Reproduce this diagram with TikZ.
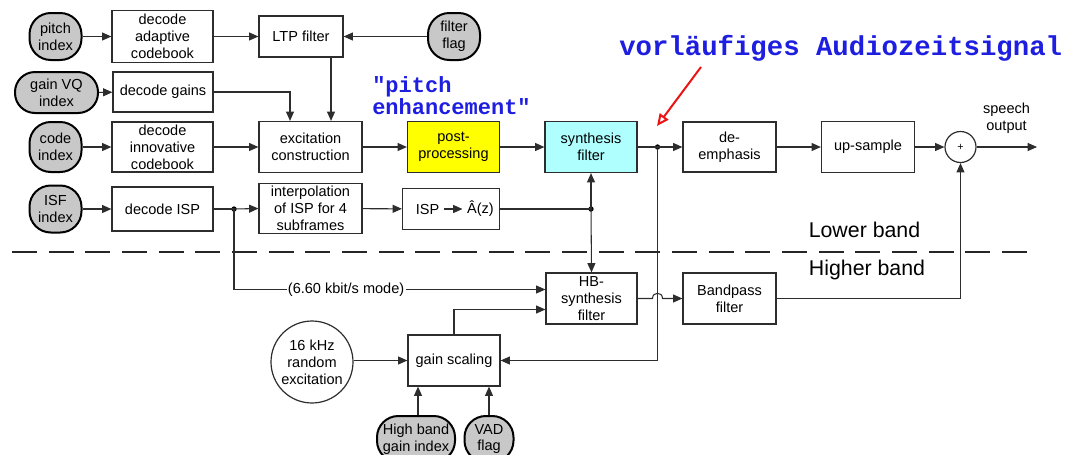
\documentclass[tikz,border=0pt]{standalone}
\usepackage{fontspec}
\setmainfont{Liberation Sans}
\newfontfamily\annotfont{Liberation Mono}
\usetikzlibrary{arrows.meta,calc}

\definecolor{wirec}{RGB}{45,45,45}
\definecolor{srcfill}{RGB}{200,200,200}
\definecolor{ppyellow}{RGB}{255,255,0}
\definecolor{sfcyan}{RGB}{175,255,255}
\definecolor{annotblue}{RGB}{30,30,225}
\definecolor{markred}{RGB}{235,20,20}

\begin{document}
\begin{tikzpicture}[x=0.75pt,y=-0.75pt,
  txt/.style={font=\fontsize{10.9}{12.6}\selectfont},
  sz/.style 2 args={minimum width=#1*0.75pt,minimum height=#2*0.75pt},
  blk/.style={txt,draw=wirec,line width=0.9pt,rectangle,align=center,inner sep=0pt},
  src/.style={txt,draw=black,line width=1.5pt,fill=srcfill,rectangle,rounded corners=16pt,align=center,inner sep=0pt},
  wire/.style={draw=wirec,line width=0.8pt},
  arr/.style={wire,-{Triangle[length=7pt,width=6pt]}},
  dot/.style={circle,fill=black,inner sep=0pt,minimum size=4pt},
  band/.style={font=\fontsize{16}{18}\selectfont},
  annot/.style={font=\annotfont\bfseries\fontsize{16.5}{16.5}\selectfont,text=annotblue,align=left,inner sep=0pt}
]
\useasboundingbox (0,0) rectangle (1073,454);

% ---- parameter sources (grey tokens)
\node[src,sz={52}{47}] (pitch) at (55.5,36.5) {pitch\\index};
\node[src,sz={52}{47}] (ff)    at (454,36.5)  {filter\\flag};
\node[src,sz={83}{41},rounded corners=15pt] (gvq) at (56.5,92.5) {gain VQ\\index};
\node[src,sz={52}{50}] (code)  at (55.5,147)  {code\\index};
\node[src,sz={52}{47}] (isf)   at (55.5,209)  {ISF\\index};
\node[src,sz={78}{46}] (hbg)   at (416,439)   {High band\\gain index};
\node[src,sz={49}{46}] (vad)   at (489,439)   {VAD\\flag};

% ---- lower band blocks
\node[blk,sz={101}{52}] (dac)    at (162.5,36.5) {decode\\adaptive\\codebook};
\node[blk,sz={84}{41}]  (ltp)    at (301,36.5)   {LTP filter};
\node[blk,sz={100}{40}] (dg)     at (163,92)     {decode gains};
\node[blk,sz={101}{50}] (dic)    at (162.5,147)  {decode\\innovative\\codebook};
\node[blk,sz={103}{51}] (exc)    at (310.5,147)  {excitation\\construction};
\node[blk,sz={92}{51},fill=ppyellow] (post) at (453.5,147) {post-\\processing};
\node[blk,sz={92}{51},fill=sfcyan]   (synth) at (591,147)  {synthesis\\filter};
\node[blk,sz={93}{50}]  (deemph) at (729.5,147)  {de-\\emphasis};
\node[blk,sz={93}{51}]  (ups)    at (868,147)    {up-sample};
\node[circle,draw=wirec,line width=0.9pt,minimum size=31*0.75pt,inner sep=0pt,
      font=\fontsize{8}{8}\selectfont] (adder) at (960.5,147) {+};
\node[blk,sz={101}{44}] (disp)   at (162.5,209)  {decode ISP};
\node[blk,sz={103}{50}] (interp) at (310.5,208.5){interpolation\\of ISP for 4\\subframes};
\node[blk,sz={97}{41}]  (isp2a)  at (451,209)    {};
\node[txt] (ispl) at (427.5,209) {ISP};
\node[txt] (ispr) at (480.5,209) {Â(z)};

% ---- higher band blocks
\node[blk,sz={91}{51}]  (hbs) at (591.5,298.5) {HB-\\synthesis\\filter};
\node[blk,sz={93}{51}]  (bpf) at (729.5,298.5) {Bandpass\\filter};
\node[blk,sz={92}{51}]  (gs)  at (454,360.5)   {gain scaling};
\node[txt,circle,draw=wirec,line width=0.9pt,minimum size=82*0.75pt,inner sep=0pt,align=center]
      (rnd) at (312,362) {16 kHz\\random\\excitation};

% ---- junction dots
\node[dot] (j1) at (234,209) {};
\node[dot] (j2) at (591,209) {};
\node[dot] (j3) at (657.5,147) {};

% ---- free ends
\coordinate (out) at (1037,147);
\coordinate (dashL) at (12,252);
\coordinate (dashR) at (1037,252);
\coordinate (redtail) at (701,67);
\coordinate (redtip) at (657,126);

% ---- labels
\node[txt,align=center] (spout) at (1006.5,118.5) {speech\\output};
\node[band] (lb) at (864.5,230) {Lower band};
\node[band] (hb) at (867,270) {Higher band};
\node[annot,anchor=west] (pe) at (372,96) {"pitch\\enhancement"};
\node[annot,anchor=west,font=\annotfont\bfseries\fontsize{20.5}{20.5}\selectfont] (vas) at (619,48) {vorläufiges Audiozeitsignal};

% ---- band separator
\draw[line width=1.5pt,draw=black!85,dash pattern=on 18.75pt off 8.75pt] (dashL) -- (dashR);

% ---- lower band wiring
\draw[arr] (pitch) -- (dac);
\draw[arr] (dac) -- (ltp);
\draw[arr] (ff) -- (ltp);
\draw[arr] (gvq) -- (dg);
\draw[arr] (dg.east) -| ($(exc.north)+(-20.5,0)$);
\draw[arr] ($(ltp.south)+(30,0)$) -- ($(exc.north)+(20.5,0)$);
\draw[arr] (code) -- (dic);
\draw[arr] (dic) -- (exc);
\draw[arr] (exc) -- (post);
\draw[arr] (post) -- (synth);
\draw[wire] (synth.east) -- (j3.center);
\draw[arr] (j3.center) -- (deemph.west);
\draw[arr] (deemph) -- (ups);
\draw[arr] (ups) -- (adder);
\draw[arr] (adder) -- (out);
\draw[arr] (isf) -- (disp);
\draw[wire] (disp.east) -- (j1.center);
\draw[arr] (j1.center) -- (interp.west);
\draw[arr] (interp) -- (isp2a);
\draw[arr] (ispl) -- (ispr);
\draw[wire] (isp2a.east) -- (j2.center);
\draw[arr] (j2.center) -- (synth.south);
\draw[arr] (j2.center) -- (hbs.north);

% ---- higher band wiring
\draw[arr] (j1.center) |- node[txt,pos=0.68,fill=white,inner sep=1pt] {(6.60 kbit/s mode)}
      ($(hbs.west)+(0,-9)$);
\draw[arr] (gs.north) |- ($(hbs.west)+(0,11)$);
\draw[arr] (j3.center) |- (gs.east);
\draw[arr] (hbs.east) -- ($(j3|-hbs.east)+(-5,0)$)
      .. controls +(0,-7) and +(0,-7) .. ($(j3|-hbs.east)+(5,0)$) -- (bpf.west);
\draw[arr] (bpf.east) -| (adder.south);
\draw[arr] (rnd.east |- gs.west) -- (gs.west);
\draw[arr] ($(hbg.north)+(2,0)$) -- ($(gs.south)+(-36,0)$);
\draw[arr] (vad.north) -- (vad.north |- gs.south);

% ---- marker arrow
\draw[markred,line width=1.5pt,-{Triangle[open,length=9pt,width=8pt]}] (redtail) -- (redtip);
\end{tikzpicture}
\end{document}
